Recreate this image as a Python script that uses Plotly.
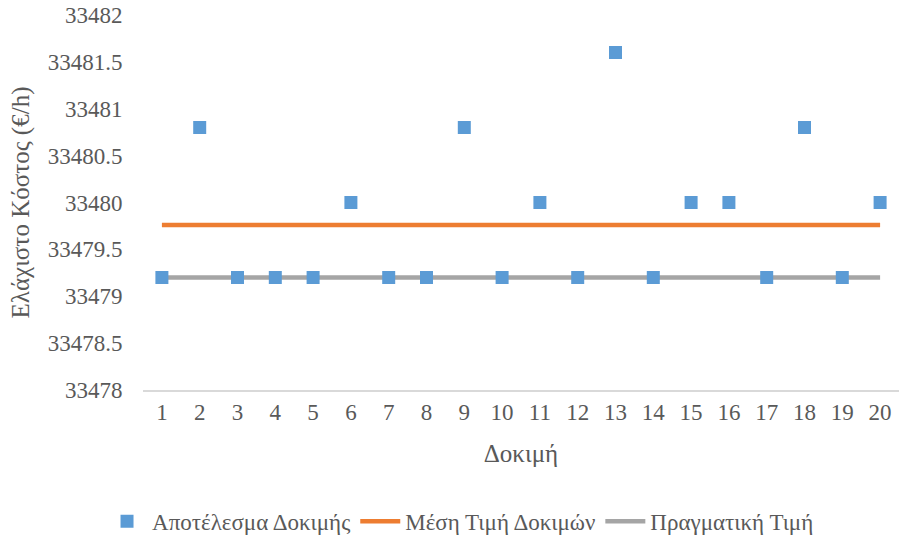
import plotly.graph_objects as go

trials = list(range(1, 21))
results = [33479.2, 33480.8, 33479.2, 33479.2, 33479.2, 33480.0, 33479.2, 33479.2, 33480.8, 33479.2,
           33480.0, 33479.2, 33481.6, 33479.2, 33480.0, 33480.0, 33479.2, 33480.8, 33479.2, 33480.0]
mean_value = [sum(results) / len(results)] * len(trials)
true_value = [33479.2] * len(trials)
yticks = [33478, 33478.5, 33479, 33479.5, 33480, 33480.5, 33481, 33481.5, 33482]

FONT = "Liberation Serif"
txt = "#595959"

fig = go.Figure()
fig.add_trace(go.Scatter(x=trials, y=true_value, mode="lines", name="Πραγματική Τιμή",
                         line=dict(color="#A5A5A5", width=4.5), legendrank=3))
fig.add_trace(go.Scatter(x=trials, y=mean_value, mode="lines", name="Μέση Τιμή Δοκιμών",
                         line=dict(color="#ED7D31", width=4.5), legendrank=2))
fig.add_trace(go.Scatter(x=trials, y=results, mode="markers", name="Αποτέλεσμα Δοκιμής",
                         marker=dict(symbol="square", size=13, color="#5B9BD5"), legendrank=1))

fig.update_layout(
    width=899, height=544,
    margin=dict(l=143, r=0, t=15, b=154),
    paper_bgcolor="white", plot_bgcolor="white",
    font=dict(family=FONT, size=23, color=txt),
    showlegend=True,
    legend=dict(orientation="h", x=0.42, xanchor="center", y=-0.35, yanchor="middle",
                font=dict(family=FONT, size=23, color=txt), itemwidth=40),
)
fig.update_xaxes(range=[0.5, 20.5], tickmode="array", tickvals=trials, ticktext=[str(t) for t in trials],
                 showgrid=False, zeroline=False, showline=True, linecolor="#D9D9D9", linewidth=1.5,
                 ticks="outside", ticklen=1, tickcolor="rgba(0,0,0,0)", automargin=False,
                 tickfont=dict(family=FONT, size=23, color=txt),
                 title=dict(text="Δοκιμή", font=dict(family=FONT, size=25, color=txt), standoff=20))
fig.update_yaxes(range=[33478, 33482], tickmode="array", tickvals=yticks,
                 ticktext=[f"{v:g}" for v in yticks], ticklabeloverflow="allow",
                 showgrid=False, zeroline=False, showline=False, automargin=False,
                 ticks="outside", ticklen=15, tickcolor="rgba(0,0,0,0)",
                 tickfont=dict(family=FONT, size=23, color=txt),
                 title=dict(text="Ελάχιστο Κόστος (€/h)", font=dict(family=FONT, size=25, color=txt), standoff=10))

fig.write_html("out.html", config={"displayModeBar": False},
               post_script="document.body.style.margin='0';document.body.style.overflow='hidden';")
